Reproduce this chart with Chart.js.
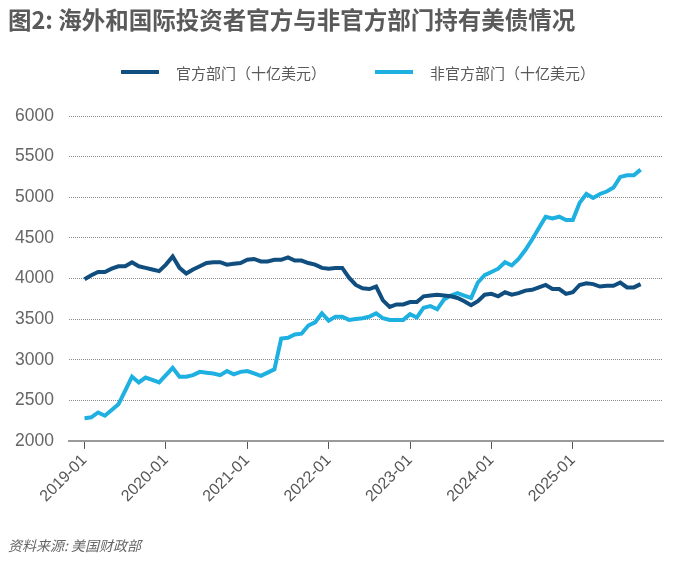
<!DOCTYPE html>
<html>
<head>
<meta charset="utf-8">
<script src="https://cdn.jsdelivr.net/npm/chart.js@4/dist/chart.umd.min.js"></script>
<style>
html,body{margin:0;padding:0;background:#fff;}
#wrap{position:relative;width:676px;height:564px;overflow:hidden;background:#fff;}
#chart{position:absolute;left:0;top:0;}
#title{position:absolute;left:8px;top:4px;font-family:'Noto Sans CJK SC';font-weight:bold;font-size:23.5px;line-height:30px;color:#5a5a5a;white-space:nowrap;}
.lg{position:absolute;top:62px;height:20px;display:flex;align-items:center;white-space:nowrap;font-family:'Noto Sans CJK SC';font-size:15px;color:#595959;}
.sw{width:38px;height:4px;margin-right:17px;}
#source{position:absolute;left:8px;top:535px;font-family:'Noto Sans CJK SC';font-style:italic;font-size:14px;line-height:20px;color:#666;white-space:nowrap;}
</style>
</head>
<body>
<div id="wrap">
  <canvas id="chart" width="676" height="564"></canvas>
  <div id="title">图2: 海外和国际投资者官方与非官方部门持有美债情况</div>
  <div id="legend"></div>
  <div id="source">资料来源: 美国财政部</div>
</div>
<script>
// ---- data ----
const seriesNames = ['官方部门（十亿美元）', '非官方部门（十亿美元）'];
const seriesColors = ['#0f4e7f', '#1eb0e1'];

// monthly values, 2019-01 ... 2025-11 (billion USD)
const officialValues = [
  3990, 4040, 4080, 4080, 4120, 4150, 4150, 4200, 4150, 4130, 4110, 4090,
  4170, 4270, 4130, 4060, 4110, 4150, 4190, 4200, 4200, 4170, 4180, 4190,
  4230, 4240, 4210, 4210, 4230, 4230, 4260, 4220, 4220, 4190, 4170, 4130,
  4120, 4130, 4130, 4010, 3920, 3880, 3870, 3900, 3730, 3650, 3680, 3680,
  3710, 3710, 3780, 3790, 3800, 3790, 3780, 3760, 3720, 3670, 3720, 3800,
  3810, 3780, 3830, 3800, 3820, 3850, 3860, 3890, 3920, 3870, 3870, 3810,
  3830, 3920, 3940, 3930, 3900, 3910, 3910, 3950, 3890, 3890, 3930
];
const privateValues = [
  2280, 2290, 2350, 2310, 2380, 2450, 2620, 2790, 2720, 2780, 2750, 2720,
  2810, 2900, 2790, 2790, 2810, 2850, 2840, 2830, 2810, 2860, 2820, 2850,
  2860, 2830, 2800, 2840, 2880, 3260, 3270, 3310, 3320, 3420, 3460, 3570,
  3480, 3530, 3530, 3490, 3500, 3510, 3530, 3570, 3510, 3490, 3490, 3490,
  3560, 3520, 3640, 3660, 3620, 3740, 3790, 3820, 3790, 3760, 3950, 4040,
  4080, 4120, 4200, 4160, 4240, 4350, 4480, 4620, 4760, 4740, 4760, 4720,
  4720, 4930, 5040, 4990, 5040, 5070, 5120, 5250, 5270, 5270, 5340
];

// x tick positions (month index from 2019-01) and their labels
const tickMonths = [0, 12, 24, 36, 48, 60, 72];
const tickLabels = ['2019-01', '2020-01', '2021-01', '2022-01', '2023-01', '2024-01', '2025-01'];
const yTicks = [2000, 2500, 3000, 3500, 4000, 4500, 5000, 5500, 6000];

// ---- legend (HTML) ----
const legendLefts = [121, 375];
const legendEl = document.getElementById('legend');
seriesNames.forEach((name, i) => {
  const d = document.createElement('div');
  d.className = 'lg';
  d.style.left = legendLefts[i] + 'px';
  const s = document.createElement('span');
  s.className = 'sw';
  s.style.background = seriesColors[i];
  const t = document.createElement('span');
  t.textContent = name;
  d.appendChild(s); d.appendChild(t);
  legendEl.appendChild(d);
});

const toPoints = arr => arr.map((v, i) => ({x: i, y: v}));

new Chart(document.getElementById('chart'), {
  type: 'line',
  data: {
    datasets: [
      {label: seriesNames[0], data: toPoints(officialValues), borderColor: seriesColors[0], backgroundColor: seriesColors[0], borderWidth: 4, pointRadius: 0, tension: 0, fill: false},
      {label: seriesNames[1], data: toPoints(privateValues), borderColor: seriesColors[1], backgroundColor: seriesColors[1], borderWidth: 4, pointRadius: 0, tension: 0, fill: false}
    ]
  },
  options: {
    responsive: false,
    animation: false,
    devicePixelRatio: 1,
    layout: {padding: {left: 0, right: 13, top: 116, bottom: 56}},
    plugins: {legend: {display: false}, title: {display: false}, tooltip: {enabled: false}},
    scales: {
      x: {
        type: 'linear', min: -2.3, max: 85.3,
        afterBuildTicks: s => { s.ticks = tickMonths.map(v => ({value: v})); },
        ticks: {
          autoSkip: false, maxRotation: 45, minRotation: 45, padding: 2,
          color: '#555', font: {family: 'Liberation Sans', size: 16},
          callback: v => { const k = tickMonths.indexOf(v); return k >= 0 ? tickLabels[k] : ''; }
        },
        grid: {drawOnChartArea: false, drawTicks: true, tickLength: 8, color: '#555', lineWidth: 1},
        border: {display: true, color: '#9a9a9a', width: 2}
      },
      y: {
        min: 2000, max: 6000,
        afterBuildTicks: s => { s.ticks = yTicks.map(v => ({value: v})); },
        ticks: {color: '#666', font: {family: 'Liberation Sans', size: 17.5}, padding: 15,
                callback: v => String(v)},
        grid: {drawTicks: false, color: '#8a8a8a', lineWidth: 1},
        border: {display: false, dash: [1, 1]}
      }
    }
  }
});
</script>
</body>
</html>
